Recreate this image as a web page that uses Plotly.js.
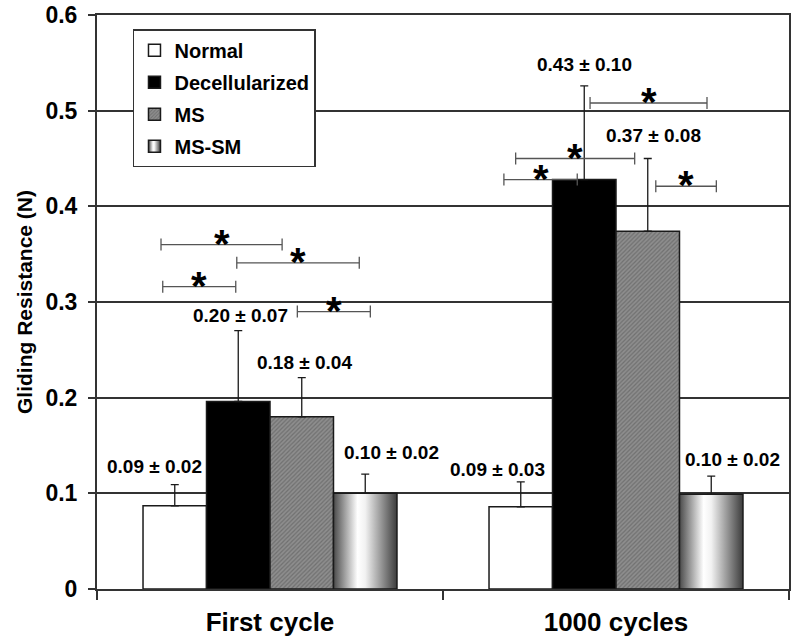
<!DOCTYPE html>
<html>
<head>
<meta charset="utf-8">
<script src="https://cdn.plot.ly/plotly-3.0.1.min.js"></script>
<style>
    html, body { margin: 0; padding: 0; background: #fff; }
    #chart { width: 792px; height: 641px; }
</style>
</head>
<body>
<div id="chart"></div>
<script>
// Gliding resistance per tendon group: first cycle vs after 1000 cycles
const CYCLES = ['First cycle', '1000 cycles'];
const GROUPS = ['Normal', 'Decellularized', 'MS', 'MS-SM'];

// Mean gliding resistance (N), ordered as CYCLES
const NORMAL_MEAN = [0.087, 0.086];
const DECELL_MEAN = [0.196, 0.428];
const MS_MEAN = [0.180, 0.374];
const MSSM_MEAN = [0.100, 0.099];

// Upper error bar (SD), ordered as CYCLES
const NORMAL_SD = [0.022, 0.026];
const DECELL_SD = [0.074, 0.098];
const MS_SD = [0.041, 0.076];
const MSSM_SD = [0.020, 0.019];

// Printed mean ± SD labels
const NORMAL_TXT = ['0.09 ± 0.02', '0.09 ± 0.03'];
const DECELL_TXT = ['0.20 ± 0.07', '0.43 ± 0.10'];
const MS_TXT = ['0.18 ± 0.04', '0.37 ± 0.08'];
const MSSM_TXT = ['0.10 ± 0.02', '0.10 ± 0.02'];

const Y_TICKS = [0, 0.1, 0.2, 0.3, 0.4, 0.5, 0.6];
const Y_TICK_TEXT = ['0', '0.1', '0.2', '0.3', '0.4', '0.5', '0.6'];

// Significance brackets: [x start, x end, y] on the category axis
const SIG_BRACKETS = [
    [-0.315, 0.035, 0.360],
    [-0.096, 0.258, 0.341],
    [-0.310, -0.099, 0.316],
    [0.079, 0.290, 0.290],
    [0.925, 1.263, 0.508],
    [0.710, 1.054, 0.450],
    [0.676, 0.888, 0.428],
    [1.115, 1.290, 0.421],
];

const FONT = 'Liberation Sans, Arial, sans-serif';
const INK = '#1a1a1a';
const BARGAP = 0.266;

// Label nudges in px [dx, dy], per group then per cycle
const LABEL_NUDGE = [
    [[-20, 18], [-23, 12]],
    [[2, 15], [0, 21]],
    [[3, 15], [6, 23]],
    [[26, 22], [21, 17]],
];

const SERIES = [
    { mean: NORMAL_MEAN, sd: NORMAL_SD, txt: NORMAL_TXT, color: '#ffffff' },
    { mean: DECELL_MEAN, sd: DECELL_SD, txt: DECELL_TXT, color: '#000000' },
    { mean: MS_MEAN, sd: MS_SD, txt: MS_TXT, color: '#8c8c8c',
      pattern: { shape: '/', bgcolor: '#8e8e8e', fgcolor: '#707070', size: 3, solidity: 0.4 } },
    { mean: MSSM_MEAN, sd: MSSM_SD, txt: MSSM_TXT, color: '#c8c8c8' },
];

const traces = SERIES.map((s, i) => ({
    type: 'bar',
    name: GROUPS[i],
    legendgroup: GROUPS[i],
    x: CYCLES,
    y: s.mean,
    marker: {
        color: s.color,
        line: { color: INK, width: 1.5 },
        pattern: s.pattern,
    },
    error_y: {
        type: 'data',
        symmetric: false,
        array: s.sd,
        arrayminus: s.sd.map(() => 0),
        color: INK,
        thickness: 1.3,
        width: 4,
    },
    hoverinfo: 'skip',
}));

// mean ± SD labels sit above each error bar
const barWidth = (1 - BARGAP) / SERIES.length;
const annotations = [];
SERIES.forEach((s, i) => {
    s.mean.forEach((m, j) => {
        annotations.push({
            x: j + (i - (SERIES.length - 1) / 2) * barWidth,
            y: m + s.sd[j],
            xref: 'x', yref: 'y',
            text: s.txt[j],
            showarrow: false,
            xanchor: 'center', yanchor: 'middle',
            xshift: LABEL_NUDGE[i][j][0],
            yshift: LABEL_NUDGE[i][j][1],
            font: { family: FONT, size: 19, weight: 'bold', color: '#000' },
        });
    });
});

// significance brackets with asterisks
const shapes = [];
SIG_BRACKETS.forEach(([x0, x1, y]) => {
    const line = { color: '#555', width: 1.3 };
    shapes.push({ type: 'line', xref: 'x', yref: 'y', x0, x1, y0: y, y1: y, line });
    [x0, x1].forEach(xe => {
        shapes.push({
            type: 'line', xref: 'x', yref: 'y', ysizemode: 'pixel', yanchor: y,
            x0: xe, x1: xe, y0: -6, y1: 6, line,
        });
    });
    annotations.push({
        x: (x0 + x1) / 2, y,
        xref: 'x', yref: 'y',
        text: '*',
        showarrow: false,
        xanchor: 'center', yanchor: 'middle',
        yshift: 1,
        font: { family: FONT, size: 40, weight: 'bold', color: '#000' },
    });
});

const layout = {
    width: 792,
    height: 641,
    margin: { l: 97, r: 3, t: 15, b: 52 },
    paper_bgcolor: '#fff',
    plot_bgcolor: '#fff',
    font: { family: FONT, color: '#000' },
    barmode: 'group',
    bargap: BARGAP,
    bargroupgap: 0,
    showlegend: true,
    legend: {
        x: 0.052, y: 0.975,
        xanchor: 'left', yanchor: 'top',
        bgcolor: '#fff',
        bordercolor: '#333',
        borderwidth: 1.5,
        traceorder: 'grouped',
        tracegroupgap: 3,
        font: { family: FONT, size: 20, weight: 'bold', color: '#000' },
    },
    xaxis: {
        type: 'category',
        range: [-0.5, 1.5],
        tickson: 'boundaries',
        ticks: 'outside',
        ticklen: 9,
        tickwidth: 2,
        tickcolor: '#333',
        showline: true,
        mirror: true,
        linecolor: '#333',
        linewidth: 2,
        showgrid: false,
        tickfont: { family: FONT, size: 26, weight: 'bold', color: '#000' },
        ticklabelstandoff: 9,
    },
    yaxis: {
        range: [0, 0.6],
        tickvals: Y_TICKS,
        ticktext: Y_TICK_TEXT,
        ticks: 'outside',
        ticklen: 7,
        tickwidth: 2,
        tickcolor: '#333',
        showline: true,
        mirror: true,
        linecolor: '#333',
        linewidth: 2,
        showgrid: true,
        gridcolor: '#333',
        gridwidth: 2,
        zeroline: false,
        tickfont: { family: FONT, size: 23, weight: 'bold', color: '#000' },
        ticklabelstandoff: 6,
        ticklabeloverflow: 'allow',
        title: {
            text: 'Gliding Resistance (N)',
            font: { family: FONT, size: 21, weight: 'bold', color: '#000' },
            standoff: 7,
        },
    },
    shapes,
    annotations,
};

// MS-SM bars have a cylinder-like grey gradient that Plotly cannot fill natively
function paintGradient(gd) {
    const NS = 'http://www.w3.org/2000/svg';
    const defs = gd.querySelector('.main-svg defs');
    const grad = document.createElementNS(NS, 'linearGradient');
    grad.setAttribute('id', 'mssm-grad');
    grad.setAttribute('x1', '0');
    grad.setAttribute('y1', '0');
    grad.setAttribute('x2', '1');
    grad.setAttribute('y2', '0');
    [[0, '#4a4a4a'], [0.38, '#ffffff'], [0.5, '#f2f2f2'], [1, '#3c3c3c']].forEach(([o, c]) => {
        const stop = document.createElementNS(NS, 'stop');
        stop.setAttribute('offset', o);
        stop.setAttribute('stop-color', c);
        grad.appendChild(stop);
    });
    defs.appendChild(grad);

    const barTraces = gd.querySelectorAll('.barlayer .trace');
    if (barTraces[3]) {
        barTraces[3].querySelectorAll('path').forEach(p => { p.style.fill = 'url(#mssm-grad)'; });
    }
    const legTraces = gd.querySelectorAll('.legend .traces');
    if (legTraces[3]) {
        legTraces[3].querySelectorAll('.legendpoints path').forEach(p => { p.style.fill = 'url(#mssm-grad)'; });
    }
}

Plotly.newPlot('chart', traces, layout, { displayModeBar: false, staticPlot: true })
    .then(paintGradient);
</script>
</body>
</html>
